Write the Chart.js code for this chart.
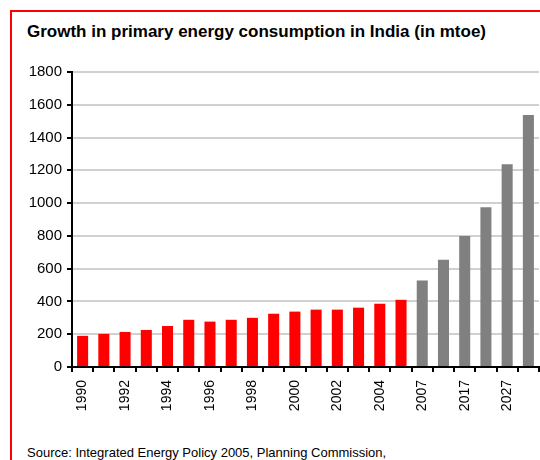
<!DOCTYPE html>
<html>
<head>
<meta charset="utf-8">
<script src="https://cdn.jsdelivr.net/npm/chart.js@4"></script>
<style>
  html, body { margin: 0; padding: 0; background: #fff; }
  body { width: 540px; height: 460px; position: relative; overflow: hidden; }
  .frame { position: absolute; left: 10px; top: 10px; width: 600px; height: 500px;
           border-left: 2px solid #ff0000; border-top: 2px solid #ff0000; }
  .title { position: absolute; left: 27px; top: 23px; font: bold 17px/17px 'Liberation Sans', Arial, sans-serif;
           color: #000; white-space: nowrap; }
  .source { position: absolute; left: 27px; top: 446px; font: 13px/13px 'Liberation Sans', Arial, sans-serif;
            color: #000; white-space: nowrap; }
  #wrap { position: absolute; left: 0; top: 0; width: 540px; height: 460px; }
</style>
</head>
<body>
<div class="frame"></div>
<div class="title">Growth in primary energy consumption in India (in mtoe)</div>
<div class="source">Source: Integrated Energy Policy 2005, Planning Commission,</div>
<div id="wrap"><canvas id="chart"></canvas></div>
<script>
// Years: actuals 1990-2005, projections 2007-2032
const years = ['1990', '1991', '1992', '1993', '1994', '1995', '1996', '1997', '1998', '1999',
               '2000', '2001', '2002', '2003', '2004', '2005',
               '2007', '2012', '2017', '2022', '2027', '2032'];
const consumption = [190, 202, 214, 226, 250, 288, 277, 288, 300, 325,
                     338, 350, 350, 362, 386, 410,
                     528, 655, 800, 975, 1237, 1537];
const actualCount = 16;
const yTicks = [0, 200, 400, 600, 800, 1000, 1200, 1400, 1600, 1800];

const barColors = years.map((_, i) => i < actualCount ? '#ff0000' : '#808080');

const ctx = document.getElementById('chart').getContext('2d');
new Chart(ctx, {
    type: 'bar',
    data: {
        labels: years,
        datasets: [{
            data: consumption,
            backgroundColor: barColors,
            borderWidth: 0,
            barPercentage: 0.52,
            categoryPercentage: 1.0
        }]
    },
    options: {
        responsive: true,
        maintainAspectRatio: false,
        animation: false,
        layout: { padding: { top: 72, right: 1, bottom: 0, left: 0 } },
        plugins: {
            legend: { display: false },
            tooltip: { enabled: false }
        },
        scales: {
            x: {
                offset: true,
                afterFit: (scale) => {
                    scale.height = 93;
                    scale.paddingLeft = 0;
                    scale.paddingRight = 0;
                },
                border: { color: '#000', width: 2 },
                grid: {
                    offset: true,
                    drawOnChartArea: false,
                    drawTicks: true,
                    color: 'rgba(0,0,0,0)',
                    tickLength: 5,
                    tickColor: '#000',
                    lineWidth: 2
                },
                ticks: {
                    autoSkip: false,
                    maxRotation: 90,
                    minRotation: 90,
                    padding: 8,
                    color: '#000',
                    font: { family: "'Liberation Sans', Arial, sans-serif", size: 14 },
                    callback: (val, i) => i % 2 === 0 ? years[i] : ''
                }
            },
            y: {
                min: 0,
                max: 1800,
                afterFit: (scale) => {
                    scale.width = 72;
                    scale.paddingTop = 0;
                    scale.paddingBottom = 0;
                },
                afterBuildTicks: (scale) => { scale.ticks = yTicks.map(v => ({ value: v })); },
                border: { color: '#000', width: 2 },
                grid: {
                    color: '#d0d0d0',
                    lineWidth: 2,
                    tickLength: 5,
                    tickColor: '#000'
                },
                ticks: {
                    padding: 5,
                    color: '#000',
                    font: { family: "'Liberation Sans', Arial, sans-serif", size: 15 },
                    callback: (val) => String(val)
                }
            }
        }
    }
});
</script>
</body>
</html>
